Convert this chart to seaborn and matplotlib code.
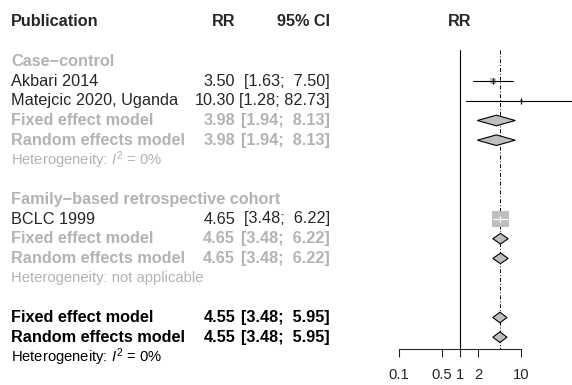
import matplotlib
matplotlib.use("Agg")
import numpy as np
import matplotlib.pyplot as plt
import seaborn as sns
from matplotlib.patches import Polygon

sns.set_style("white")
plt.rcParams["font.family"] = ["Liberation Sans", "DejaVu Sans"]
plt.rcParams["mathtext.fontset"] = "custom"
plt.rcParams["mathtext.rm"] = "Liberation Sans"
plt.rcParams["mathtext.it"] = "Liberation Sans:italic"

# ---- data -------------------------------------------------------------
studies = ["Akbari 2014", "Matejcic 2020, Uganda", "BCLC 1999"]
study_rr = [3.50, 10.30, 4.65]
study_lo = [1.63, 1.28, 3.48]
study_hi = [7.50, 82.73, 6.22]
study_weight = [12.5, 1.7, 85.8]          # percent weight
study_rows = [3, 4, 10]

subgroups = ["Case\u2212control", "Family\u2212based retrospective cohort"]
subgroup_rows = [2, 9]

pooled_labels = ["Fixed effect model", "Random effects model"] * 3
pooled_rr = [3.98, 3.98, 4.65, 4.65, 4.55, 4.55]
pooled_lo = [1.94, 1.94, 3.48, 3.48, 3.48, 3.48]
pooled_hi = [8.13, 8.13, 6.22, 6.22, 5.95, 5.95]
pooled_rows = [5, 6, 11, 12, 15, 16]
pooled_overall = [False, False, False, False, True, True]

het_labels = ["Heterogeneity: $I^2$ = 0%",
              "Heterogeneity: not applicable",
              "Heterogeneity: $I^2$ = 0%"]
het_rows = [7, 13, 17]
het_overall = [False, False, True]

x_ticks = [0.1, 0.5, 1, 2, 10]
x_ticklabels = ["0.1", "0.5", "1", "2", "10"]

# ---- layout -----------------------------------------------------------
W, H = 572, 385
ROW0, ROWH = 22.0, 19.7
GRAY = "#b3b3b3"
BOX = "#bebebe"
FS = 11.7
FS_SMALL = 10.6

def px2row(y):
    return (y - ROW0) / ROWH

ylim = (px2row(H), px2row(0))

fig = plt.figure(figsize=(W / 100, H / 100), dpi=100)

# text panel in pixel x-units, row y-units
ax_t = fig.add_axes([0, 0, 1, 1])
ax_t.set_xlim(0, W)
ax_t.set_ylim(*ylim)
ax_t.axis("off")

# forest panel (log scale)
f_left = 399
decade = 60.85
x_max = 10 ** ((W - f_left) / decade - 1)
ax_f = fig.add_axes([f_left / W, 0, (W - f_left) / W, 1])
ax_f.patch.set_alpha(0)
ax_f.set_xscale("log")
ax_f.set_xlim(0.1, x_max)
ax_f.set_ylim(*ylim)

X_NAME, X_RR, X_CI = 11, 235, 330

def fmt_rr(v):
    return f"{v:.2f}"

def fmt_ci(lo, hi):
    return f"[{lo:.2f}; {hi:>5.2f}]"

# headers
ax_t.text(X_NAME, 0, "Publication", fontsize=FS, fontweight="bold", va="center", ha="left")
ax_t.text(X_RR, 0, "RR", fontsize=FS, fontweight="bold", va="center", ha="right")
ax_t.text(X_CI, 0, "95% CI", fontsize=FS, fontweight="bold", va="center", ha="right")
ax_f.text(1, 0, "RR", fontsize=FS, fontweight="bold", va="center", ha="center")

# subgroup headings
for name, r in zip(subgroups, subgroup_rows):
    ax_t.text(X_NAME, r, name, fontsize=FS, fontweight="bold", color=GRAY,
              va="center", ha="left")

# study rows
for name, rr, lo, hi, r in zip(studies, study_rr, study_lo, study_hi, study_rows):
    ax_t.text(X_NAME, r, name, fontsize=FS, va="center", ha="left")
    ax_t.text(X_RR, r, fmt_rr(rr), fontsize=FS, va="center", ha="right")
    ax_t.text(X_CI, r, fmt_ci(lo, hi), fontsize=FS, va="center", ha="right")

# pooled rows
for name, rr, lo, hi, r, ov in zip(pooled_labels, pooled_rr, pooled_lo, pooled_hi,
                                   pooled_rows, pooled_overall):
    c = "black" if ov else GRAY
    ax_t.text(X_NAME, r, name, fontsize=FS, fontweight="bold", color=c, va="center", ha="left")
    ax_t.text(X_RR, r, fmt_rr(rr), fontsize=FS, fontweight="bold", color=c, va="center", ha="right")
    ax_t.text(X_CI, r, fmt_ci(lo, hi), fontsize=FS, fontweight="bold", color=c, va="center", ha="right")

# heterogeneity notes
for txt, r, ov in zip(het_labels, het_rows, het_overall):
    ax_t.text(X_NAME, r, txt, fontsize=FS_SMALL, color="black" if ov else GRAY,
              va="center", ha="left")

# reference lines: no effect and overall random-effects estimate
y_top, y_bot = px2row(50), px2row(348.5)
ax_f.plot([1, 1], [y_top, y_bot], color="black", lw=0.8, zorder=1)
ax_f.plot([pooled_rr[-1]] * 2, [y_top, y_bot], color="black", lw=0.7,
          ls=(0, (4, 2, 1, 2)), zorder=1)

# study squares, area proportional to weight
sizes = [1.745 * w for w in study_weight]
sns.scatterplot(x=study_rr, y=study_rows, s=sizes, marker="s", color=BOX,
                linewidth=0, ax=ax_f, zorder=2, legend=False)

# confidence intervals (white where the interval sits inside its square)
for rr, lo, hi, r, w in zip(study_rr, study_lo, study_hi, study_rows, study_weight):
    side_pt = np.sqrt(1.745 * w)
    half_box = side_pt / 0.72 / 2 / decade
    inside = (np.log10(rr) - np.log10(lo) < half_box) and (np.log10(hi) - np.log10(rr) < half_box)
    c = "white" if inside else "black"
    ax_f.plot([lo, hi], [r, r], color=c, lw=0.8, zorder=3)
    ax_f.plot([rr], [r], marker="|", ms=3.8, mew=0.9, color=c, zorder=4)

# pooled diamonds
half_h = 0.27
for rr, lo, hi, r in zip(pooled_rr, pooled_lo, pooled_hi, pooled_rows):
    ax_f.add_patch(Polygon([(lo, r), (rr, r - half_h), (hi, r), (rr, r + half_h)],
                           closed=True, facecolor=BOX, edgecolor="black",
                           lw=0.8, zorder=3))

# bottom axis
for s in ["top", "left", "right"]:
    ax_f.spines[s].set_visible(False)
ax_f.spines["bottom"].set_position(("data", y_bot))
ax_f.spines["bottom"].set_bounds(0.1, 10)
ax_f.spines["bottom"].set_linewidth(0.8)
ax_f.set_xticks(x_ticks)
ax_f.set_xticklabels(x_ticklabels)
ax_f.minorticks_off()
ax_f.tick_params(axis="x", direction="out", length=5.8, width=0.8, pad=8.5,
                 labelsize=FS_SMALL, bottom=True)
ax_f.set_yticks([])
ax_f.grid(False)

fig.savefig("out.png", dpi=100)
